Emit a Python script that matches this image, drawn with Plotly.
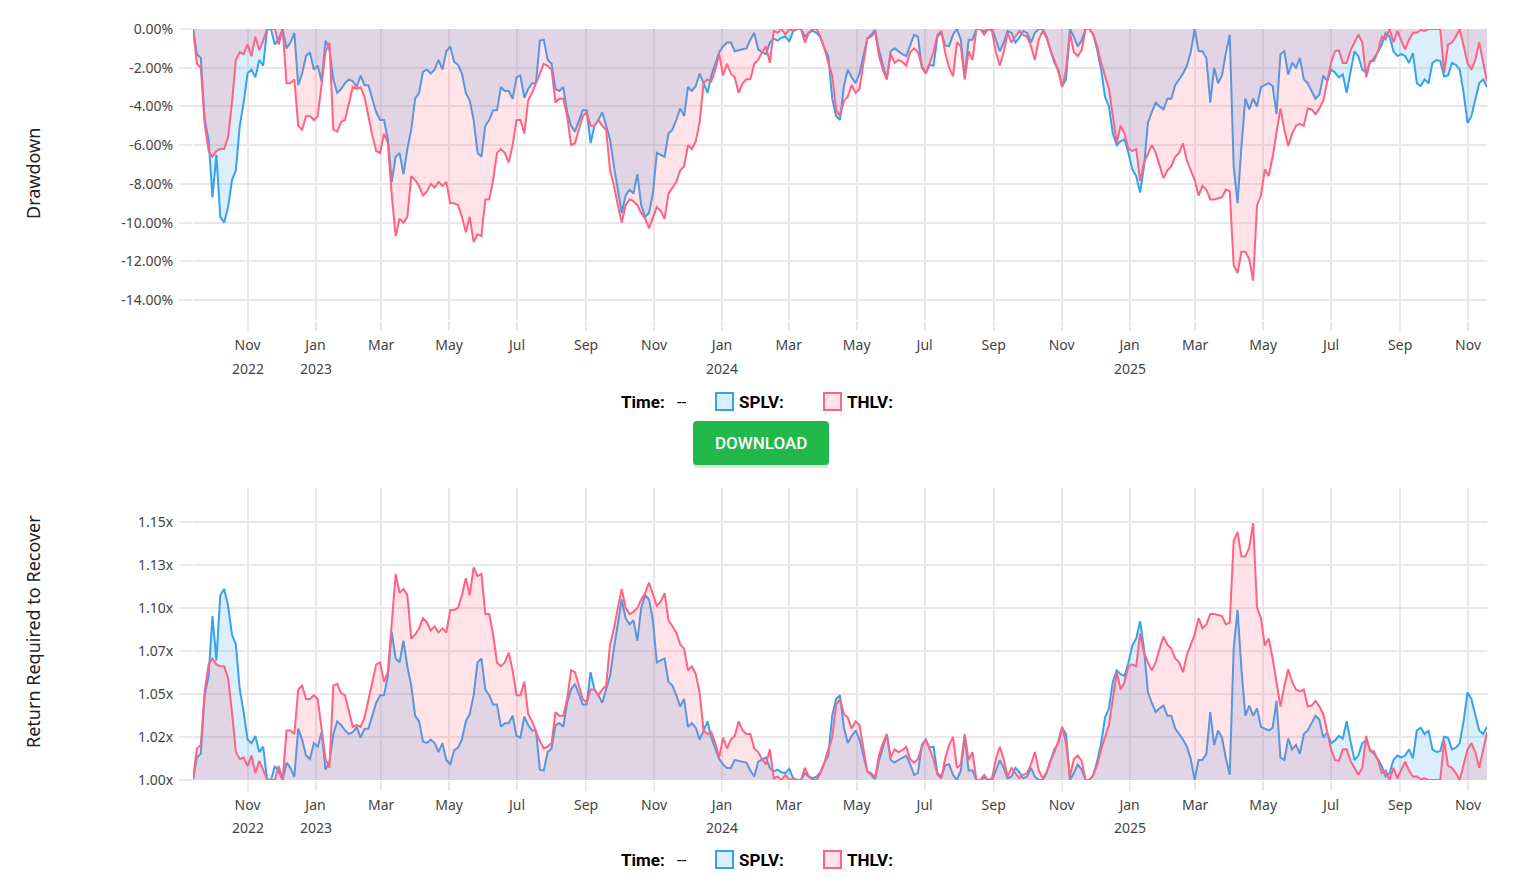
import pandas as pd
import plotly.graph_objects as go

# Drawdown readings in percent, one every 3.5 days from 2022-09-13
start_date = "2022-09-13"

splv_dd = [
    0.0, -1.3, -1.5, -4.7, -5.7, -8.7, -6.5, -9.7, -10.0, -9.2,
    -7.8, -7.3, -5.0, -3.8, -2.3, -2.1, -2.5, -1.6, -1.9, -0.05,
    0.0, -0.8, -0.5, 0.0, -1.0, -0.7, -0.2, -2.9, -2.3, -1.4,
    -1.2, -2.1, -1.9, -2.7, -0.6, -1.05, -2.6, -3.3, -3.1, -2.8,
    -2.6, -2.7, -3.0, -2.4, -2.9, -2.9, -3.6, -4.3, -4.7, -4.7,
    -5.7, -7.9, -6.6, -6.4, -7.5, -6.2, -5.2, -3.6, -3.3, -2.2,
    -2.1, -2.3, -2.1, -1.6, -2.1, -1.15, -0.9, -1.7, -1.85, -2.3,
    -3.3, -3.7, -4.7, -6.4, -6.6, -5.0, -4.7, -4.2, -4.2, -3.0,
    -3.2, -3.2, -3.6, -2.5, -2.4, -3.55, -3.1, -2.8, -2.8, -0.6,
    -0.55, -1.6, -1.8, -3.1, -3.2, -3.0, -4.3, -5.0, -5.3, -4.8,
    -4.2, -4.2, -5.9, -5.0, -4.7, -4.3, -5.0, -5.7, -7.1, -8.4,
    -9.5, -8.6, -8.3, -8.5, -7.5, -9.1, -9.7, -9.5, -8.5, -6.4,
    -6.5, -6.6, -5.4, -5.2, -4.7, -4.1, -4.5, -3.0, -3.2, -2.95,
    -2.3, -2.8, -3.3, -2.4, -1.75, -1.2, -0.9, -0.7, -0.7, -1.15,
    -1.1, -1.05, -1.0, -0.55, -0.2, -1.05, -1.2, -1.3, -0.7, -0.5,
    -0.6, -0.45, -0.4, -0.65, -0.1, 0.0, 0.0, -0.4, -0.2, -0.1,
    -0.2, -0.45, -1.0, -1.4, -3.6, -4.5, -4.7, -2.95, -2.1, -2.5,
    -2.8, -2.3, -1.4, -0.5, -0.3, -0.05, -1.1, -1.9, -2.6, -1.15,
    -1.0, -1.15, -1.3, -1.4, -0.9, -0.3, -0.4, -2.0, -2.3, -1.85,
    -1.9, -0.4, -0.2, -0.85, -0.9, -0.3, 0.0, -0.55, -2.5, -0.55,
    -0.55, 0.0, 0.0, -0.15, 0.0, 0.0, -0.55, -1.15, -0.7, -0.1,
    -0.2, -0.7, -0.45, -0.1, -0.2, -0.7, -0.2, 0.0, 0.0, -0.4,
    -1.1, -1.75, -2.1, -2.95, -2.6, 0.0, -0.4, -0.9, -0.6, 0.0,
    0.0, -0.3, -1.1, -2.1, -3.5, -4.0, -5.4, -6.0, -5.8, -5.7,
    -6.4, -7.25, -7.6, -8.45, -7.1, -4.85, -4.3, -3.8, -4.0, -4.15,
    -3.6, -3.6, -2.9, -2.6, -2.3, -1.9, -1.2, 0.0, -1.15, -1.15,
    -1.5, -3.8, -2.0, -2.8, -2.4, -1.25, -0.3, -7.1, -9.0, -6.05,
    -3.6, -4.15, -3.6, -4.0, -3.0, -2.9, -2.8, -2.95, -4.4, -1.3,
    -1.15, -2.35, -1.75, -2.0, -1.5, -2.6, -2.8, -3.2, -3.6, -3.4,
    -2.4, -2.7, -2.1, -2.25, -2.5, -2.35, -3.3, -2.2, -1.15, -1.4,
    -2.1, -2.25, -1.75, -1.5, -1.2, -0.8, -0.2, -0.4, -1.15, -1.4,
    -1.3, -1.4, -1.75, -1.25, -2.8, -2.95, -2.6, -2.8, -1.75, -1.6,
    -1.65, -2.45, -2.4, -1.75, -1.85, -2.1, -3.3, -4.85, -4.5, -3.65,
    -2.8, -2.6, -3.0,
]

thlv_dd = [
    0.0, -1.8, -2.0, -4.9, -6.3, -6.6, -6.3, -6.2, -6.2, -5.6,
    -3.8, -1.6, -1.2, -1.3, -0.8, -1.4, -0.4, -1.1, -0.6, 0.0,
    0.0, 0.0, -0.8, 0.0, -2.8, -2.8, -2.6, -5.0, -5.2, -4.5,
    -4.5, -4.7, -4.5, -2.8, -1.2, -0.7, -5.2, -5.3, -4.8, -4.7,
    -3.8, -3.0, -3.1, -3.0, -3.5, -4.5, -5.5, -6.3, -6.4, -5.4,
    -5.9, -8.6, -10.7, -9.8, -10.0, -9.7, -7.6, -7.8, -8.1, -8.6,
    -8.4, -8.0, -8.2, -7.9, -8.1, -7.9, -9.0, -9.0, -9.1, -9.7,
    -10.5, -9.7, -11.0, -10.6, -10.7, -8.8, -8.8, -7.8, -6.4, -6.2,
    -6.4, -6.9, -6.0, -4.7, -4.7, -5.4, -3.7, -3.3, -2.8, -2.2,
    -1.8, -1.9, -2.1, -3.8, -3.6, -3.6, -4.5, -6.0, -5.9, -5.2,
    -4.5, -4.3, -5.0, -5.0, -4.7, -5.0, -5.2, -7.3, -8.1, -9.1,
    -10.0, -9.1, -8.8, -8.9, -9.1, -9.5, -9.8, -10.3, -9.8, -9.2,
    -9.4, -9.8, -8.5, -8.2, -7.9, -7.3, -7.1, -6.0, -6.2, -5.8,
    -4.8, -2.8, -2.6, -2.7, -2.1, -1.3, -2.4, -1.8, -2.3, -2.5,
    -3.3, -2.8, -2.6, -2.6, -1.8, -1.6, -1.2, -0.9, -1.75, -0.1,
    -0.2, 0.0, -0.3, 0.0, -0.1, 0.0, 0.0, -0.7, -0.2, 0.0,
    0.0, -0.4, -1.0, -1.75, -2.4, -4.2, -4.5, -3.7, -3.5, -2.9,
    -3.3, -3.1, -1.9, -0.5, -0.4, -0.15, -1.4, -2.1, -2.6, -1.3,
    -1.75, -1.6, -1.7, -1.9, -1.2, -1.0, -1.2, -1.9, -2.3, -1.7,
    -1.2, -0.3, -0.1, -1.25, -2.0, -2.45, -0.7, -0.9, -2.6, -1.15,
    -1.6, 0.0, 0.0, -0.3, 0.0, -0.1, -1.2, -1.9, -1.2, -0.2,
    -0.7, -0.4, -0.1, -0.3, -0.4, -0.9, -1.6, -0.55, -0.1, -0.45,
    -1.1, -1.6, -2.2, -3.0, -2.1, -0.2, -1.2, -1.4, -1.1, 0.0,
    0.0, -0.3, -0.9, -1.75, -2.4, -3.1, -4.5, -5.9, -5.0, -5.4,
    -6.2, -6.3, -6.2, -7.85, -6.9, -6.4, -6.0, -6.4, -7.1, -7.7,
    -7.3, -7.1, -6.6, -6.4, -5.9, -6.8, -7.3, -7.8, -8.6, -8.1,
    -8.3, -8.8, -8.8, -8.75, -8.7, -8.3, -8.4, -12.2, -12.6, -11.5,
    -11.5, -11.9, -13.0, -9.1, -8.6, -7.25, -7.6, -6.6, -5.45, -4.1,
    -5.2, -6.05, -5.4, -5.0, -4.9, -5.0, -4.1, -4.15, -4.4, -4.1,
    -3.7, -2.8, -1.75, -1.15, -1.1, -1.75, -1.75, -1.1, -0.7, -0.3,
    -0.7, -2.5, -1.65, -1.65, -1.15, -0.4, -0.55, 0.0, -0.7, -0.1,
    -0.6, -1.05, -0.55, -0.2, -0.2, -0.05, -0.1, 0.0, 0.0, 0.0,
    0.0, -2.25, -0.8, -0.7, -0.4, 0.0, -0.9, -1.75, -2.1, -1.6,
    -0.7, -1.75, -2.7,
]

dd_tick_vals = [0.0, -0.02, -0.04, -0.06, -0.08, -0.10, -0.12, -0.14]
dd_tick_labels = ["0.00%", "-2.00%", "-4.00%", "-6.00%", "-8.00%", "-10.00%", "-12.00%", "-14.00%"]
rec_tick_vals = [1.0, 1.025, 1.05, 1.075, 1.10, 1.125, 1.15]
rec_tick_labels = ["1.00x", "1.02x", "1.05x", "1.07x", "1.10x", "1.13x", "1.15x"]
year_ticks = ["2022-11-01", "2023-01-01", "2024-01-01", "2025-01-01"]
year_labels = ["2022", "2023", "2024", "2025"]

BLUE = "rgb(54,162,235)"
PINK = "rgb(255,99,132)"
BLUE_FILL = "rgba(54,162,235,0.18)"
PINK_FILL = "rgba(255,99,132,0.18)"
GRID = "#e8e8e8"
TICK_FONT = dict(family="Noto Sans", size=14, color="#444")

W, H = 1521, 878


def px(x):
    return x / W


def py(y):
    return 1 - y / H


def rounded_rect(x0, y0, x1, y1, r):
    # pixel box -> svg path in paper coords
    return (
        f"M {px(x0 + r)},{py(y0)} L {px(x1 - r)},{py(y0)} "
        f"Q {px(x1)},{py(y0)} {px(x1)},{py(y0 + r)} L {px(x1)},{py(y1 - r)} "
        f"Q {px(x1)},{py(y1)} {px(x1 - r)},{py(y1)} L {px(x0 + r)},{py(y1)} "
        f"Q {px(x0)},{py(y1)} {px(x0)},{py(y1 - r)} L {px(x0)},{py(y0 + r)} "
        f"Q {px(x0)},{py(y0)} {px(x0 + r)},{py(y0)} Z"
    )


dates = pd.date_range(start_date, periods=len(splv_dd), freq="84h")
splv = pd.Series(splv_dd, index=dates) / 100
thlv = pd.Series(thlv_dd, index=dates) / 100

fig = go.Figure()
for name, dd, color, fill in [("SPLV", splv, BLUE, BLUE_FILL), ("THLV", thlv, PINK, PINK_FILL)]:
    fig.add_trace(go.Scatter(x=dates, y=dd, xaxis="x", yaxis="y", mode="lines", name=name,
                             line=dict(color=color, width=2), fill="tozeroy", fillcolor=fill,
                             showlegend=False))
    # return needed to get back to the previous peak
    fig.add_trace(go.Scatter(x=dates, y=1 / (1 + dd), xaxis="x2", yaxis="y2", mode="lines", name=name,
                             line=dict(color=color, width=2), fill="tozeroy", fillcolor=fill,
                             showlegend=False))

x_common = dict(type="date", range=[dates[0], dates[-1]], dtick="M2", tick0="2022-11-01",
                tickformat="%b", showgrid=True, gridcolor=GRID, gridwidth=2, zeroline=False,
                showline=False, ticks="outside", ticklen=10, tickwidth=2, tickcolor=GRID,
                tickfont=TICK_FONT, ticklabelstandoff=2, automargin=False)
y_common = dict(showgrid=True, gridcolor=GRID, gridwidth=2, zeroline=False, showline=False,
                ticks="outside", ticklen=13, tickwidth=2, tickcolor=GRID, tickfont=TICK_FONT,
                ticklabelstandoff=3, automargin=False)

fig.update_layout(
    width=W, height=H,
    margin=dict(l=0, r=0, t=0, b=0, autoexpand=False),
    paper_bgcolor="white", plot_bgcolor="white",
    showlegend=False,
    xaxis=dict(x_common, domain=[px(193), px(1487)], anchor="y"),
    yaxis=dict(y_common, domain=[py(320), py(29)], anchor="x", range=[-0.1503, 0],
               tickvals=dd_tick_vals, ticktext=dd_tick_labels),
    xaxis2=dict(x_common, domain=[px(193), px(1487)], anchor="y2"),
    yaxis2=dict(y_common, domain=[py(780), py(488)], anchor="x2", range=[1.0, 1.1698],
                tickvals=rec_tick_vals, ticktext=rec_tick_labels),
)

annotations = []
shapes = []

# axis titles
for text, yc in [("Drawdown", 174), ("Return Required to Recover", 632)]:
    annotations.append(dict(text=text, xref="paper", yref="paper", x=px(33), y=py(yc),
                            textangle=-90, showarrow=False, xanchor="center", yanchor="middle",
                            font=dict(family="Noto Sans", size=18, color="#222")))

# year line under the month ticks
for xref, yy in [("x", 368), ("x2", 827)]:
    for d, label in zip(year_ticks, year_labels):
        annotations.append(dict(text=label, xref=xref, yref="paper", x=d, y=py(yy),
                                showarrow=False, xanchor="center", yanchor="middle",
                                font=TICK_FONT))

# custom legend rows
LEG_FONT = dict(family="Roboto", size=17, color="#000")
for yy in [402, 860]:
    annotations.append(dict(text="<b>Time:</b>", xref="paper", yref="paper", x=px(619), y=py(yy),
                            showarrow=False, xanchor="left", yanchor="middle", font=LEG_FONT))
    annotations.append(dict(text="--", xref="paper", yref="paper", x=px(675), y=py(yy),
                            showarrow=False, xanchor="left", yanchor="middle", font=LEG_FONT))
    for x0, label, color, fill in [(716, "SPLV:", BLUE, BLUE_FILL), (824, "THLV:", PINK, PINK_FILL)]:
        shapes.append(dict(type="rect", xref="paper", yref="paper",
                           x0=px(x0), x1=px(x0 + 17), y0=py(yy + 8), y1=py(yy - 9),
                           line=dict(color=color, width=2), fillcolor=fill))
        annotations.append(dict(text=f"<b>{label}</b>", xref="paper", yref="paper",
                                x=px(x0 + 21), y=py(yy), showarrow=False, xanchor="left",
                                yanchor="middle", font=LEG_FONT))

# download button
shapes.append(dict(type="path", xref="paper", yref="paper", path=rounded_rect(693, 423, 829, 468, 4),
                   fillcolor="rgba(0,0,0,0.12)", line=dict(width=0)))
shapes.append(dict(type="path", xref="paper", yref="paper", path=rounded_rect(693, 421, 829, 465, 4),
                   fillcolor="#22b84b", line=dict(width=0)))
annotations.append(dict(text="DOWNLOAD", xref="paper", yref="paper", x=px(761), y=py(443),
                        showarrow=False, xanchor="center", yanchor="middle",
                        font=dict(family="Roboto", size=17, color="white", weight=500)))

fig.update_layout(annotations=annotations, shapes=shapes)

fig.write_html("out.html", config={"displayModeBar": False},
               post_script="document.body.style.margin='0px';")
